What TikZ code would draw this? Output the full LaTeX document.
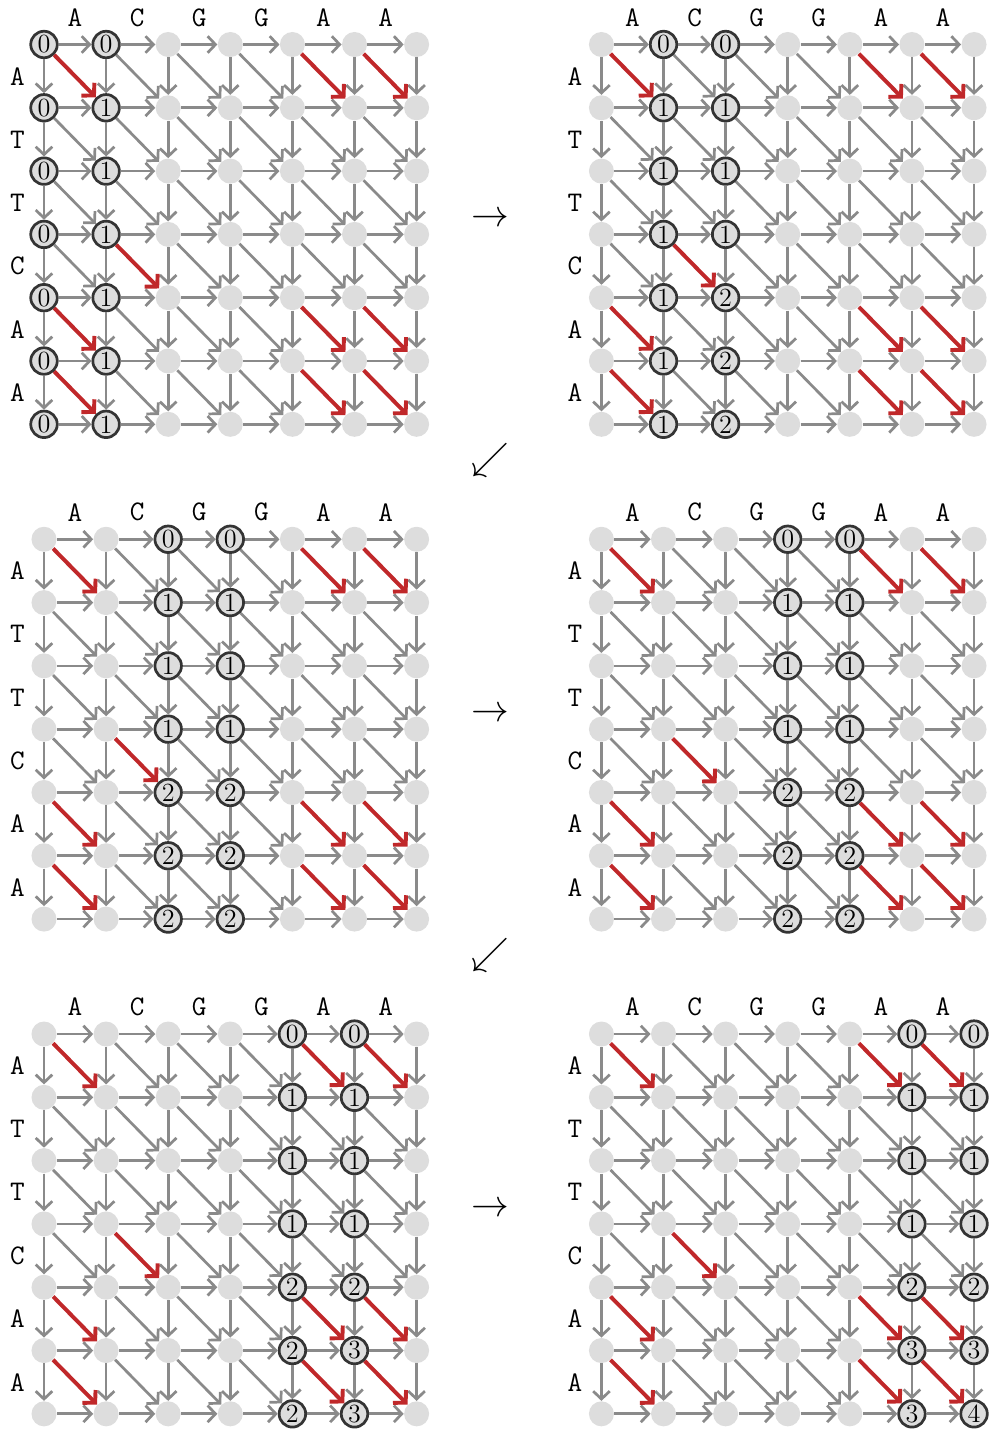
\documentclass[tikz,border=0pt]{standalone}
\usepackage{tikz}
\usetikzlibrary{arrows.meta}
\definecolor{edgegray}{RGB}{138,138,138}
\definecolor{cellgray}{RGB}{221,221,221}
\definecolor{ringgray}{RGB}{52,52,52}
\definecolor{matchred}{RGB}{192,40,42}

\begin{document}
\begin{tikzpicture}[x=1cm,y=1.0193cm,
  cell/.style={circle,fill=cellgray,minimum size=4.03mm,inner sep=0pt},
  active/.style={circle,fill=cellgray,draw=ringgray,line width=1.25pt,minimum size=4.27mm,inner sep=0pt,font=\fontsize{12}{14}\selectfont},
  edge/.style={draw=edgegray,line width=1.25pt,-{Straight Barb[length=3.6pt,width=7.6pt]}},
  match/.style={draw=matchred,line width=1.8pt,-{Straight Barb[length=4pt,width=8.4pt]}},
  seq/.style={font=\ttfamily\fontsize{13}{15}\selectfont},
  turn/.style={font=\LARGE}]
\useasboundingbox (-0.7085,0.703) rectangle (15.394,-22.156);
\foreach \p/\ox/\oy/\c/\va/\vb in {
  1/0/0/0/{0,0,0,0,0,0,0}/{0,1,1,1,1,1,1},
  2/8.976/0/1/{0,1,1,1,1,1,1}/{0,1,1,1,2,2,2},
  3/0/-7.816/2/{0,1,1,1,2,2,2}/{0,1,1,1,2,2,2},
  4/8.976/-7.816/3/{0,1,1,1,2,2,2}/{0,1,1,1,2,2,2},
  5/0/-15.632/4/{0,1,1,1,2,2,2}/{0,1,1,1,2,3,3},
  6/8.976/-15.632/5/{0,1,1,1,2,3,3}/{0,1,1,1,2,3,4}} {
  \begin{scope}[shift={(\ox,\oy)}]
  \foreach \ch [count=\j from 0] in {A,C,G,G,A,A}
    \node[seq] (c\p-\j) at (\j+0.5,0.4265) {\ch};
  \foreach \ch [count=\i from 0] in {A,T,T,C,A,A}
    \node[seq] (r\p-\i) at (-0.427,-\i-0.5) {\ch};
  \foreach \i in {0,...,6}
    \foreach \j in {0,...,6}
      \node[cell] (n\p-\i-\j) at (\j,-\i) {};
  % the two columns being filled in
  \pgfmathtruncatemacro\cb{\c+1}
  \foreach \v [count=\i from 0] in \va
    \node[active] (n\p-\i-\c) at (\c,-\i) {\v};
  \foreach \v [count=\i from 0] in \vb
    \node[active] (n\p-\i-\cb) at (\cb,-\i) {\v};
  \foreach \i in {0,...,6}
    \foreach \j in {0,...,5} {
      \pgfmathtruncatemacro\jj{\j+1}
      \draw[edge] (n\p-\i-\j) -- (n\p-\i-\jj);
    }
  \foreach \i in {0,...,5}
    \foreach \j in {0,...,6} {
      \pgfmathtruncatemacro\ii{\i+1}
      \draw[edge] (n\p-\i-\j) -- (n\p-\ii-\j);
    }
  \foreach \rowch [count=\i from 0] in {A,T,T,C,A,A}
    \foreach \colch [count=\j from 0] in {A,C,G,G,A,A} {
      \pgfmathtruncatemacro\ii{\i+1}
      \pgfmathtruncatemacro\jj{\j+1}
      \ifx\rowch\colch \def\kind{match}\else\def\kind{edge}\fi
      \draw[\kind] (n\p-\i-\j) -- (n\p-\ii-\jj);
    }
  \end{scope}
}
\foreach \k/\y in {1/-2.773,2/-10.589,3/-18.405}
  \node[turn] (right\k) at (7.182,\y) {$\rightarrow$};
\foreach \k/\y in {1/-6.564,2/-14.380}
  \node[turn] (down\k) at (7.182,\y) {$\swarrow$};
\end{tikzpicture}
\end{document}
